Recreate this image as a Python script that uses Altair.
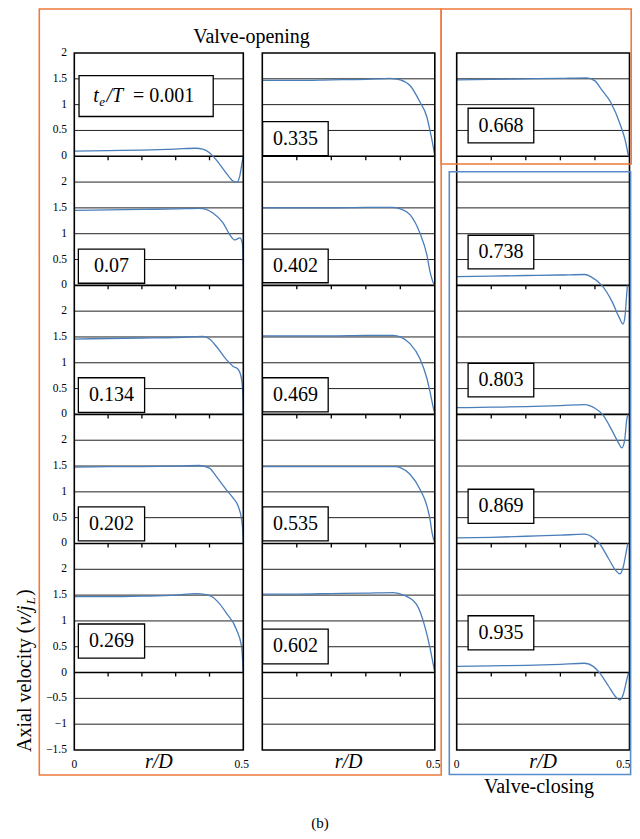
import altair as alt
import pandas as pd

# ---------------- data ----------------
labels_col1 = ["0.001", "0.07", "0.134", "0.202", "0.269"]
labels_col2 = ["0.335", "0.402", "0.469", "0.535", "0.602"]
labels_col3 = ["0.668", "0.738", "0.803", "0.869", "0.935"]

r_0001 = [0, 0.1, 0.2, 0.3, 0.36, 0.38, 0.40, 0.42, 0.45, 0.47, 0.481, 0.49, 0.497, 0.5]
v_0001 = [0.10, 0.11, 0.12, 0.14, 0.155, 0.14, 0.07, -0.07, -0.33, -0.48, -0.50, -0.37, -0.10, 0.0]
r_007 = [0, 0.1, 0.2, 0.3, 0.37, 0.39, 0.41, 0.44, 0.46, 0.475, 0.49, 0.497, 0.4995, 0.5]
v_007 = [1.45, 1.46, 1.47, 1.48, 1.49, 1.47, 1.40, 1.21, 0.98, 0.88, 0.92, 0.82, 0.40, 0.0]
r_0134 = [0, 0.1, 0.2, 0.3, 0.38, 0.40, 0.42, 0.45, 0.47, 0.485, 0.495, 0.499, 0.5]
v_0134 = [1.46, 1.47, 1.48, 1.49, 1.51, 1.46, 1.32, 1.06, 0.93, 0.87, 0.68, 0.35, 0.0]
r_0202 = [0, 0.1, 0.2, 0.3, 0.37, 0.40, 0.42, 0.45, 0.47, 0.485, 0.495, 0.499, 0.5]
v_0202 = [1.48, 1.49, 1.49, 1.50, 1.51, 1.46, 1.30, 1.04, 0.88, 0.72, 0.46, 0.20, 0.0]
r_0269 = [0, 0.1, 0.2, 0.3, 0.36, 0.39, 0.41, 0.43, 0.45, 0.48, 0.495, 0.5]
v_0269 = [1.47, 1.47, 1.48, 1.50, 1.53, 1.51, 1.46, 1.33, 1.15, 0.83, 0.50, 0.0]

r_0335 = [0, 0.1, 0.2, 0.3, 0.37, 0.40, 0.428, 0.457, 0.477, 0.486, 0.495, 0.5]
v_0335 = [1.47, 1.47, 1.48, 1.49, 1.51, 1.48, 1.37, 1.05, 0.76, 0.50, 0.20, 0.0]
r_0402 = [0, 0.1, 0.2, 0.3, 0.38, 0.40, 0.428, 0.457, 0.477, 0.486, 0.495, 0.5]
v_0402 = [1.50, 1.50, 1.50, 1.51, 1.51, 1.48, 1.37, 1.01, 0.59, 0.27, 0.06, 0.0]
r_0469 = [0, 0.1, 0.2, 0.3, 0.38, 0.40, 0.428, 0.457, 0.477, 0.486, 0.495, 0.5]
v_0469 = [1.52, 1.52, 1.52, 1.53, 1.53, 1.50, 1.37, 1.08, 0.70, 0.44, 0.15, 0.0]
r_0535 = [0, 0.1, 0.2, 0.3, 0.385, 0.40, 0.428, 0.457, 0.477, 0.486, 0.492, 0.5]
v_0535 = [1.49, 1.49, 1.49, 1.49, 1.49, 1.47, 1.34, 1.05, 0.73, 0.47, 0.21, 0.0]
r_0602 = [0, 0.1, 0.2, 0.3, 0.38, 0.41, 0.447, 0.472, 0.486, 0.5]
v_0602 = [1.52, 1.52, 1.53, 1.54, 1.55, 1.50, 1.32, 0.87, 0.48, 0.0]

r_0668 = [0, 0.1, 0.2, 0.3, 0.376, 0.40, 0.418, 0.446, 0.474, 0.488, 0.497]
v_0668 = [1.48, 1.49, 1.50, 1.51, 1.52, 1.46, 1.30, 1.04, 0.60, 0.30, 0.0]
r_0738 = [0, 0.1, 0.2, 0.3, 0.37, 0.39, 0.42, 0.45, 0.47, 0.481, 0.487, 0.491, 0.494]
v_0738 = [0.17, 0.18, 0.19, 0.20, 0.21, 0.16, 0.0, -0.32, -0.62, -0.75, -0.60, -0.25, 0.0]
r_0803 = [0, 0.1, 0.2, 0.3, 0.37, 0.40, 0.422, 0.45, 0.468, 0.478, 0.486, 0.492, 0.496]
v_0803 = [0.13, 0.14, 0.15, 0.17, 0.19, 0.12, 0.0, -0.32, -0.55, -0.65, -0.50, -0.10, 0.0]
r_0869 = [0, 0.1, 0.2, 0.3, 0.37, 0.395, 0.413, 0.44, 0.46, 0.472, 0.482, 0.49, 0.495]
v_0869 = [0.11, 0.12, 0.14, 0.16, 0.18, 0.11, 0.0, -0.30, -0.52, -0.59, -0.45, -0.18, 0.0]
r_0935 = [0, 0.1, 0.2, 0.3, 0.37, 0.395, 0.413, 0.44, 0.46, 0.472, 0.482, 0.49, 0.497]
v_0935 = [0.12, 0.13, 0.14, 0.16, 0.18, 0.12, 0.0, -0.27, -0.47, -0.53, -0.42, -0.20, 0.0]

curves_col1 = [(r_0001, v_0001), (r_007, v_007), (r_0134, v_0134), (r_0202, v_0202), (r_0269, v_0269)]
curves_col2 = [(r_0335, v_0335), (r_0402, v_0402), (r_0469, v_0469), (r_0535, v_0535), (r_0602, v_0602)]
curves_col3 = [(r_0668, v_0668), (r_0738, v_0738), (r_0803, v_0803), (r_0869, v_0869), (r_0935, v_0935)]

axis_tick_step = 0.5
x_ticks = [0.1, 0.2, 0.3, 0.4]

# ---------------- layout ----------------
COL_LEFT = [0.3, 188.3, 382.7]
COL_W = [169.0, 172.5, 172.8]
R_MAX = 0.5
SHIFT = 2.5
N_PANELS = 5
Y_TOP, Y_BOT = 2.0, -11.5
PLOT_W, PLOT_H = 558, 697
SERIF = "Liberation Serif"
LINE_BLUE = "#4a7ebb"
ORANGE = "#f07a3e"
BOX_BLUE = "#5a8ccc"

# label boxes: (r_left, r_right) per column, (v_top, v_bottom) relative to panel
BOX_R = [(0.012, 0.208), (0.001, 0.191), (0.033, 0.223)]
BOX_V = [
    [(1.56, 0.77), (0.70, 0.04), (0.71, 0.04), (0.71, 0.05), (0.94, 0.28)],
    [(0.67, 0.01), (0.70, 0.05), (0.71, 0.05), (0.71, 0.05), (0.84, 0.17)],
    [(0.93, 0.26), (0.97, 0.32), (0.99, 0.34), (1.05, 0.39), (1.10, 0.44)],
]
FIRST_BOX_R = (0.014, 0.411)


def gx(c, r):
    return COL_LEFT[c] + r / R_MAX * COL_W[c]


all_labels = [labels_col1, labels_col2, labels_col3]
all_curves = [curves_col1, curves_col2, curves_col3]

rows = []
for c in range(3):
    for k, (rr, vv) in enumerate(all_curves[c]):
        for i, (r, v) in enumerate(zip(rr, vv)):
            rows.append({"id": f"{c}-{k}", "i": i, "gx": gx(c, r), "gy": v - SHIFT * k})
curve_df = pd.DataFrame(rows)

n_steps = int(round((Y_TOP - Y_BOT) / axis_tick_step))
grid_vals = [Y_TOP - axis_tick_step * i for i in range(n_steps + 1)]


def tick_label(y):
    k = min(N_PANELS - 1, int((Y_TOP - y) / SHIFT + 1e-6))
    v = y + SHIFT * k
    s = f"{v:g}"
    return s.replace("-", "\u2212")


ylab_df = pd.DataFrame({"y": grid_vals, "t": [tick_label(y) for y in grid_vals]})

grid_rows, zero_rows = [], []
for c in range(3):
    for y in grid_vals[1:-1]:
        rec = {"x1": COL_LEFT[c], "x2": COL_LEFT[c] + COL_W[c], "y": y}
        if abs(y / SHIFT - round(y / SHIFT)) < 1e-9 and y <= 0:
            zero_rows.append(rec)
        else:
            grid_rows.append(rec)
grid_df = pd.DataFrame(grid_rows)
zero_df = pd.DataFrame(zero_rows)

frame_df = pd.DataFrame([{"x1": COL_LEFT[c], "x2": COL_LEFT[c] + COL_W[c], "y1": Y_TOP, "y2": Y_BOT} for c in range(3)])

tick_df = pd.DataFrame([{"x": gx(c, t), "y": -SHIFT * k} for c in range(3) for k in range(N_PANELS) for t in x_ticks])

box_rows, text_rows = [], []
for c in range(3):
    for k in range(N_PANELS):
        r0, r1 = FIRST_BOX_R if (c == 0 and k == 0) else BOX_R[c]
        vt, vb = BOX_V[c][k]
        box_rows.append({"x1": gx(c, r0), "x2": gx(c, r1), "y1": vt - SHIFT * k, "y2": vb - SHIFT * k})
        if not (c == 0 and k == 0):
            text_rows.append({"x": (gx(c, r0) + gx(c, r1)) / 2, "y": (vt + vb) / 2 - SHIFT * k,
                              "t": all_labels[c][k]})
box_df = pd.DataFrame(box_rows)
label_df = pd.DataFrame(text_rows)

xlab_rows = []
for c in range(3):
    if c != 1:
        xlab_rows.append({"x": gx(c, 0), "t": "0", "a": "center"})
    if c == 2:
        xlab_rows.append({"x": gx(c, R_MAX) + 1.0, "t": "0.5", "a": "right"})
    else:
        xlab_rows.append({"x": gx(c, R_MAX) - 1.5, "t": "0.5", "a": "center"})
xlab_df = pd.DataFrame(xlab_rows)
rd_df = pd.DataFrame([{"x": gx(c, R_MAX / 2), "t": "r/D"} for c in range(3)])

xs = alt.Scale(domain=[0, PLOT_W], nice=False, zero=False)
ys = alt.Scale(domain=[Y_BOT, Y_TOP], nice=False, zero=False)


def X(f):
    return alt.X(f, scale=xs, axis=None)


def Y(f):
    return alt.Y(f, scale=ys, axis=None)


frames_bg = alt.Chart(frame_df).mark_rect(fill="white").encode(x=X("x1:Q"), x2="x2:Q", y=Y("y1:Q"), y2="y2:Q")
grid = alt.Chart(grid_df).mark_rule(color="#222222", strokeWidth=1).encode(x=X("x1:Q"), x2="x2:Q", y=Y("y:Q"))
zeros = alt.Chart(zero_df).mark_rule(color="black", strokeWidth=1.6).encode(x=X("x1:Q"), x2="x2:Q", y=Y("y:Q"))
ticks = alt.Chart(tick_df).mark_rule(color="black", strokeWidth=1.3, y2Offset=4).encode(
    x=X("x:Q"), y=Y("y:Q"), y2="y:Q")
lines = alt.Chart(curve_df).mark_line(color=LINE_BLUE, strokeWidth=1.3, interpolate="monotone").encode(
    x=X("gx:Q"), y=Y("gy:Q"), detail="id:N", order="i:Q")
frames = alt.Chart(frame_df).mark_rect(fill=None, stroke="black", strokeWidth=1.6).encode(
    x=X("x1:Q"), x2="x2:Q", y=Y("y1:Q"), y2="y2:Q")
boxes = alt.Chart(box_df).mark_rect(fill="white", stroke="black", strokeWidth=1.3).encode(
    x=X("x1:Q"), x2="x2:Q", y=Y("y1:Q"), y2="y2:Q")
box_text = alt.Chart(label_df).mark_text(font=SERIF, fontSize=20, color="black", baseline="middle").encode(
    x=X("x:Q"), y=Y("y:Q"), text="t:N")
ylabels = alt.Chart(ylab_df).mark_text(font=SERIF, fontSize=11.5, color="black", align="right",
                                       baseline="middle").encode(x=alt.value(-7), y=Y("y:Q"), text="t:N")
xlabels_c = alt.Chart(xlab_df).transform_filter("datum.a == 'center'").mark_text(
    font=SERIF, fontSize=11.5, color="black", baseline="alphabetic", align="center").encode(
    x=X("x:Q"), y=alt.value(PLOT_H + 18), text="t:N")
xlabels_r = alt.Chart(xlab_df).transform_filter("datum.a == 'right'").mark_text(
    font=SERIF, fontSize=11.5, color="black", baseline="alphabetic", align="right").encode(
    x=X("x:Q"), y=alt.value(PLOT_H + 18), text="t:N")
rd_text = alt.Chart(rd_df).mark_text(font=SERIF, fontSize=20, fontStyle="italic", color="black",
                                     baseline="alphabetic").encode(x=X("x:Q"), y=alt.value(PLOT_H + 18), text="t:N")

one = pd.DataFrame({"a": [0]})


def rect_px(x1, x2, y1, y2, color):
    return alt.Chart(one).mark_rect(fill=None, stroke=color, strokeWidth=1.6).encode(
        x=alt.value(x1), x2=alt.value(x2), y=alt.value(y1), y2=alt.value(y2))


def text_px(s, x, y, size, style="normal", align="left", angle=0):
    return alt.Chart(one).mark_text(text=s, font=SERIF, fontSize=size, fontStyle=style, align=align,
                                    baseline="alphabetic", angle=angle, color="black").encode(
        x=alt.value(x), y=alt.value(y))


orange_big = rect_px(-34.7, 367.2, -44, 722, ORANGE)
orange_small = rect_px(367.2, 557.2, -44, 111, ORANGE)
blue_box = rect_px(375.3, 556.6, 118.7, 721.5, BOX_BLUE)

annots = [
    text_px("Valve-opening", 177.5, -10.5, 20, align="center"),
    text_px("Valve-closing", 465, 740, 20, align="center"),
    text_px("(b)", 246, 775, 15, align="center"),
    # first label t_e/T = 0.001
    text_px("t", 19.3, 48.7, 20, "italic"),
    text_px("e", 25.3, 52.5, 13, "italic"),
    text_px("/T", 32.5, 48.7, 20, "italic"),
    text_px("= 0.001", 59.0, 48.7, 20),
    # y-axis title
    text_px("Axial velocity (", -43.5, 699, 20, angle=270),
    text_px("v/j", -43.5, 572.5, 20, "italic", angle=270),
    text_px("L", -39.5, 551.5, 13.5, "italic", angle=270),
    text_px(")", -43.5, 543, 20, angle=270),
]

chart = alt.layer(
    frames_bg, grid, zeros, ticks, lines, frames, boxes, box_text, ylabels, xlabels_c, xlabels_r, rd_text,
    orange_big, orange_small, blue_box, *annots,
).properties(
    width=PLOT_W, height=PLOT_H,
    autosize=alt.AutoSizeParams(type="none"),
    padding={"left": 66, "top": 45, "right": 0, "bottom": 88},
).configure_view(stroke=None)

chart.save("out.html", embed_options={"renderer": "svg", "actions": False})
